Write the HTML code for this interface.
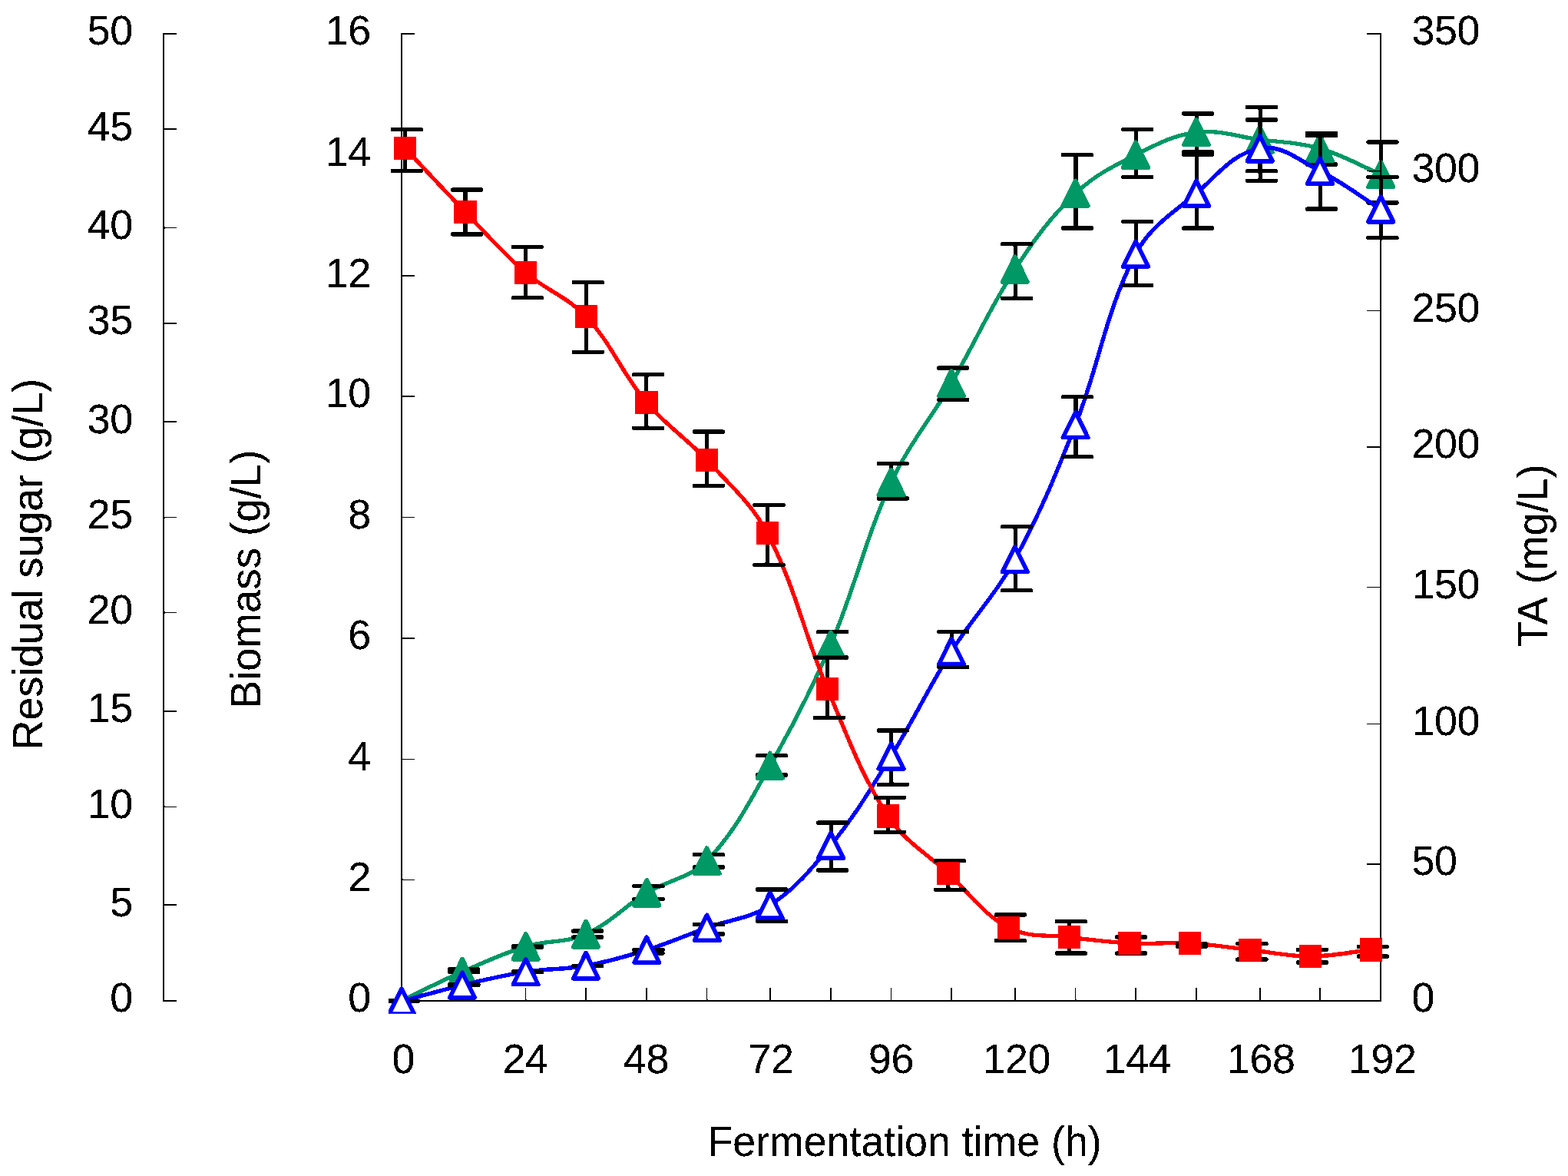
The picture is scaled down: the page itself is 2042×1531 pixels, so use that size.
<!DOCTYPE html>
<html lang="en"><head><meta charset="utf-8"><title>Fermentation time course</title>
<style>html,body{margin:0;padding:0;background:#fff}body{width:2042px;height:1531px;overflow:hidden}svg{display:block}text{font-family:"Liberation Sans", Arial, sans-serif;font-size:53.8px;fill:#000}.d{letter-spacing:-0.45px}</style></head><body>
<svg width="2042" height="1531" viewBox="0 0 2042 1531">
<defs><clipPath id="cb"><rect x="505.9" y="0" width="1400" height="1319.7"/></clipPath>
<filter id="bin" filterUnits="userSpaceOnUse" x="0" y="0" width="2042" height="1531" color-interpolation-filters="sRGB"><feComponentTransfer><feFuncA type="discrete" tableValues="0 0 1 1 1"/></feComponentTransfer></filter></defs>
<rect width="2042" height="1531" fill="#fff"/>
<g filter="url(#bin)">
<g id="biomass">
<path d="M523.1 43.3V1304.3" stroke="#000" stroke-width="2" fill="none"/>
<path d="M522.1 1303.1H1799.2" stroke="#000" stroke-width="2.5" fill="none"/>
<g stroke="#000" stroke-width="1.4" fill="none">
<path d="M523.1 1303.0h17"/>
<path d="M523.1 1145.3h17"/>
<path d="M523.1 988.4h17"/>
<path d="M523.1 830.8h17"/>
<path d="M523.1 673.6h17"/>
<path d="M523.1 516.0h17"/>
<path d="M523.1 359.2h17"/>
<path d="M523.1 201.3h17"/>
<path d="M523.1 44.0h17"/>
<path d="M523.1 1303.0v-17"/>
<path d="M602.0 1303.0v-17"/>
<path d="M684.6 1303.0v-17"/>
<path d="M763.0 1303.0v-17"/>
<path d="M842.2 1303.0v-17"/>
<path d="M920.6 1303.0v-17"/>
<path d="M1002.8 1303.0v-17"/>
<path d="M1081.9 1303.0v-17"/>
<path d="M1160.5 1303.0v-17"/>
<path d="M1239.0 1303.0v-17"/>
<path d="M1321.8 1303.0v-17"/>
<path d="M1400.6 1303.0v-17"/>
<path d="M1479.0 1303.0v-17"/>
<path d="M1557.9 1303.0v-17"/>
<path d="M1640.7 1303.0v-17"/>
<path d="M1718.9 1303.0v-17"/>
<path d="M1798.2 1303.0v-17"/>
</g>
<g text-anchor="end" class="d">
<text text-anchor="end" transform="translate(482.6 1317.3) scale(1 1.010)">0</text>
<text text-anchor="end" transform="translate(482.6 1159.6) scale(1 1.010)">2</text>
<text text-anchor="end" transform="translate(482.6 1002.7) scale(1 1.010)">4</text>
<text text-anchor="end" transform="translate(482.6 845.1) scale(1 1.010)">6</text>
<text text-anchor="end" transform="translate(482.6 687.9) scale(1 1.010)">8</text>
<text text-anchor="end" transform="translate(482.6 530.3) scale(1 1.010)">10</text>
<text text-anchor="end" transform="translate(482.6 373.5) scale(1 1.010)">12</text>
<text text-anchor="end" transform="translate(482.6 215.6) scale(1 1.010)">14</text>
<text text-anchor="end" transform="translate(482.6 58.3) scale(1 1.010)">16</text>
</g>
<g text-anchor="middle" class="d">
<text text-anchor="middle" transform="translate(525.1 1396.6) scale(1 1.010)">0</text>
<text text-anchor="middle" transform="translate(684.1 1396.6) scale(1 1.010)">24</text>
<text text-anchor="middle" transform="translate(841.4 1396.6) scale(1 1.010)">48</text>
<text text-anchor="middle" transform="translate(1004.0 1396.6) scale(1 1.010)">72</text>
<text text-anchor="middle" transform="translate(1160.5 1396.6) scale(1 1.010)">96</text>
<text text-anchor="middle" transform="translate(1323.8 1396.6) scale(1 1.010)">120</text>
<text text-anchor="middle" transform="translate(1481.0 1396.6) scale(1 1.010)">144</text>
<text text-anchor="middle" transform="translate(1642.2 1396.6) scale(1 1.010)">168</text>
<text text-anchor="middle" transform="translate(1800.2 1396.6) scale(1 1.010)">192</text>
</g>
<text text-anchor="middle" transform="translate(1178.1 1504.7) scale(1 1.030)" style="font-size:53.7px;">Fermentation time (h)</text>
<text text-anchor="middle" transform="translate(338.5 754.0) rotate(-90) scale(1 1.030)" style="font-size:54.6px;">Biomass (g/L)</text>
<g clip-path="url(#cb)">
<path d="M523.1 1302.8C551.5 1289.2 573.2 1277.7 602.0 1265.2C631.3 1252.3 654.0 1241.6 684.6 1232.2C712.2 1223.9 736.7 1227.9 763.0 1216.2C794.5 1202.2 812.7 1180.1 842.2 1162.2C869.5 1145.7 898.3 1143.6 920.6 1120.7C957.9 1082.2 976.2 1043.2 1002.8 996.8C1034.3 941.7 1057.0 897.7 1081.9 839.4C1113.8 764.8 1126.5 701.8 1160.5 628.1C1183.3 578.8 1211.7 546.1 1239.0 499.1C1269.8 446.2 1288.3 401.9 1321.8 350.6C1346.7 312.5 1367.6 283.1 1400.6 251.8C1424.9 228.7 1449.1 216.7 1479.0 201.6C1506.0 187.9 1527.8 175.9 1557.9 172.2C1587.7 168.5 1610.9 177.8 1640.7 181.7C1668.9 185.3 1691.6 185.3 1718.9 193.2C1748.7 201.7 1769.7 214.8 1798.2 227.0" stroke="#009966" stroke-width="5.1" fill="none" stroke-linejoin="round"/>
<g stroke="#000" fill="none"><path stroke-width="4.9" d="M523.50 1303.0V1303.0"/><rect x="504.4" y="1300.45" width="42.0" height="5.1" rx="1.6" fill="#000" stroke="none"/><path stroke-width="4.9" d="M602.40 1261.8V1265.5"/><rect x="583.3" y="1259.25" width="42.0" height="5.1" rx="1.6" fill="#000" stroke="none"/><rect x="583.3" y="1262.95" width="42.0" height="5.1" rx="1.6" fill="#000" stroke="none"/><path stroke-width="4.9" d="M685.00 1232.0V1233.0"/><rect x="665.9" y="1229.45" width="42.0" height="5.1" rx="1.6" fill="#000" stroke="none"/><rect x="665.9" y="1230.45" width="42.0" height="5.1" rx="1.6" fill="#000" stroke="none"/><path stroke-width="4.9" d="M763.40 1212.0V1220.1"/><rect x="744.3" y="1209.45" width="42.0" height="5.1" rx="1.6" fill="#000" stroke="none"/><rect x="744.3" y="1217.55" width="42.0" height="5.1" rx="1.6" fill="#000" stroke="none"/><path stroke-width="4.9" d="M842.60 1153.8V1170.5"/><rect x="823.5" y="1151.25" width="42.0" height="5.1" rx="1.6" fill="#000" stroke="none"/><rect x="823.5" y="1167.95" width="42.0" height="5.1" rx="1.6" fill="#000" stroke="none"/><path stroke-width="4.9" d="M921.00 1112.5V1129.0"/><rect x="901.9" y="1109.95" width="42.0" height="5.1" rx="1.6" fill="#000" stroke="none"/><rect x="901.9" y="1126.45" width="42.0" height="5.1" rx="1.6" fill="#000" stroke="none"/><path stroke-width="4.9" d="M1003.20 983.8V1008.9"/><rect x="984.1" y="981.25" width="42.0" height="5.1" rx="1.6" fill="#000" stroke="none"/><rect x="984.1" y="1006.35" width="42.0" height="5.1" rx="1.6" fill="#000" stroke="none"/><path stroke-width="4.9" d="M1082.30 822.5V856.0"/><rect x="1063.2" y="819.95" width="42.0" height="5.1" rx="1.6" fill="#000" stroke="none"/><rect x="1063.2" y="853.45" width="42.0" height="5.1" rx="1.6" fill="#000" stroke="none"/><path stroke-width="4.9" d="M1160.90 603.5V648.9"/><rect x="1141.8" y="600.95" width="42.0" height="5.1" rx="1.6" fill="#000" stroke="none"/><rect x="1141.8" y="646.35" width="42.0" height="5.1" rx="1.6" fill="#000" stroke="none"/><path stroke-width="4.9" d="M1239.40 479.1V520.6"/><rect x="1220.3" y="476.55" width="42.0" height="5.1" rx="1.6" fill="#000" stroke="none"/><rect x="1220.3" y="518.05" width="42.0" height="5.1" rx="1.6" fill="#000" stroke="none"/><path stroke-width="4.9" d="M1322.20 317.6V388.2"/><rect x="1303.1" y="315.05" width="42.0" height="5.1" rx="1.6" fill="#000" stroke="none"/><rect x="1303.1" y="385.65" width="42.0" height="5.1" rx="1.6" fill="#000" stroke="none"/><path stroke-width="4.9" d="M1401.00 201.5V297.0"/><rect x="1381.9" y="198.95" width="42.0" height="5.1" rx="1.6" fill="#000" stroke="none"/><rect x="1381.9" y="294.45" width="42.0" height="5.1" rx="1.6" fill="#000" stroke="none"/><path stroke-width="4.9" d="M1479.40 168.6V230.5"/><rect x="1460.3" y="166.05" width="42.0" height="5.1" rx="1.6" fill="#000" stroke="none"/><rect x="1460.3" y="227.95" width="42.0" height="5.1" rx="1.6" fill="#000" stroke="none"/><path stroke-width="4.9" d="M1558.30 147.9V197.9"/><rect x="1539.2" y="145.35" width="42.0" height="5.1" rx="1.6" fill="#000" stroke="none"/><rect x="1539.2" y="195.35" width="42.0" height="5.1" rx="1.6" fill="#000" stroke="none"/><path stroke-width="4.9" d="M1641.10 139.6V222.7"/><rect x="1622.0" y="137.05" width="42.0" height="5.1" rx="1.6" fill="#000" stroke="none"/><rect x="1622.0" y="220.15" width="42.0" height="5.1" rx="1.6" fill="#000" stroke="none"/><path stroke-width="4.9" d="M1719.30 173.4V214.0"/><rect x="1700.2" y="170.85" width="42.0" height="5.1" rx="1.6" fill="#000" stroke="none"/><rect x="1700.2" y="211.45" width="42.0" height="5.1" rx="1.6" fill="#000" stroke="none"/><path stroke-width="4.9" d="M1798.60 185.0V263.9"/><rect x="1779.5" y="182.45" width="42.0" height="5.1" rx="1.6" fill="#000" stroke="none"/><rect x="1779.5" y="261.35" width="42.0" height="5.1" rx="1.6" fill="#000" stroke="none"/></g>
<path d="M523.1 1287.5L539.4 1320.4L506.9 1320.4z" fill="#009966" stroke="#009966" stroke-width="3.0" stroke-linejoin="round"/>
<path d="M602.0 1248.8L618.2 1281.6L585.8 1281.6z" fill="#009966" stroke="#009966" stroke-width="5.5" stroke-linejoin="round"/>
<path d="M684.6 1215.8L700.9 1248.7L668.4 1248.7z" fill="#009966" stroke="#009966" stroke-width="5.5" stroke-linejoin="round"/>
<path d="M763.0 1199.8L779.2 1232.7L746.8 1232.7z" fill="#009966" stroke="#009966" stroke-width="5.5" stroke-linejoin="round"/>
<path d="M842.2 1145.8L858.5 1178.7L826.0 1178.7z" fill="#009966" stroke="#009966" stroke-width="5.5" stroke-linejoin="round"/>
<path d="M920.6 1104.2L936.9 1137.1L904.4 1137.1z" fill="#009966" stroke="#009966" stroke-width="5.5" stroke-linejoin="round"/>
<path d="M1002.8 980.4L1019.0 1013.1L986.5 1013.1z" fill="#009966" stroke="#009966" stroke-width="5.5" stroke-linejoin="round"/>
<path d="M1081.9 823.0L1098.2 855.8L1065.7 855.8z" fill="#009966" stroke="#009966" stroke-width="5.5" stroke-linejoin="round"/>
<path d="M1160.5 611.8L1176.8 644.5L1144.2 644.5z" fill="#009966" stroke="#009966" stroke-width="5.5" stroke-linejoin="round"/>
<path d="M1239.0 482.8L1255.2 515.5L1222.8 515.5z" fill="#009966" stroke="#009966" stroke-width="5.5" stroke-linejoin="round"/>
<path d="M1321.8 334.2L1338.0 367.0L1305.5 367.0z" fill="#009966" stroke="#009966" stroke-width="5.5" stroke-linejoin="round"/>
<path d="M1400.6 235.3L1416.8 268.1L1384.3 268.1z" fill="#009966" stroke="#009966" stroke-width="5.5" stroke-linejoin="round"/>
<path d="M1479.0 185.2L1495.2 218.0L1462.8 218.0z" fill="#009966" stroke="#009966" stroke-width="5.5" stroke-linejoin="round"/>
<path d="M1557.9 155.8L1574.2 188.6L1541.7 188.6z" fill="#009966" stroke="#009966" stroke-width="5.5" stroke-linejoin="round"/>
<path d="M1640.7 165.2L1657.0 198.1L1624.5 198.1z" fill="#009966" stroke="#009966" stroke-width="5.5" stroke-linejoin="round"/>
<path d="M1718.9 176.8L1735.2 209.6L1702.7 209.6z" fill="#009966" stroke="#009966" stroke-width="5.5" stroke-linejoin="round"/>
<path d="M1798.2 210.6L1814.5 243.4L1782.0 243.4z" fill="#009966" stroke="#009966" stroke-width="5.5" stroke-linejoin="round"/>
</g></g>
<g id="ta">
<path d="M1798.2 43.3V1304.0" stroke="#000" stroke-width="2" fill="none"/>
<g stroke="#000" stroke-width="1.4" fill="none">
<path d="M1798.2 1303.0h-18"/>
<path d="M1798.2 1124.8h-18"/>
<path d="M1798.2 942.5h-18"/>
<path d="M1798.2 764.5h-18"/>
<path d="M1798.2 581.8h-18"/>
<path d="M1798.2 404.5h-18"/>
<path d="M1798.2 222.7h-18"/>
<path d="M1798.2 44.1h-18"/>
</g>
<g text-anchor="start" class="d">
<text text-anchor="start" transform="translate(1838.5 1317.3) scale(1 1.010)">0</text>
<text text-anchor="start" transform="translate(1838.5 1139.1) scale(1 1.010)">50</text>
<text text-anchor="start" transform="translate(1838.5 956.8) scale(1 1.010)">100</text>
<text text-anchor="start" transform="translate(1838.5 778.8) scale(1 1.010)">150</text>
<text text-anchor="start" transform="translate(1838.5 596.1) scale(1 1.010)">200</text>
<text text-anchor="start" transform="translate(1838.5 418.8) scale(1 1.010)">250</text>
<text text-anchor="start" transform="translate(1838.5 237.0) scale(1 1.010)">300</text>
<text text-anchor="start" transform="translate(1838.5 58.4) scale(1 1.010)">350</text>
</g>
<text text-anchor="middle" transform="translate(2014.3 723.3) rotate(-90) scale(1 1.030)" style="font-size:54.0px;word-spacing:5.0px;">TA (mg/L)</text>
<g clip-path="url(#cb)">
<path d="M523.1 1303.6C551.5 1295.9 573.4 1289.2 602.0 1282.4C631.6 1275.3 654.6 1269.8 684.6 1265.2C712.6 1260.8 735.1 1262.3 763.0 1257.2C792.0 1252.0 814.1 1245.5 842.2 1236.7C870.9 1227.6 892.3 1218.0 920.6 1207.8C950.1 1197.1 976.6 1195.9 1002.8 1178.6C1036.1 1156.4 1056.7 1131.7 1081.9 1100.7C1113.8 1061.4 1133.8 1027.3 1160.5 984.4C1190.4 936.3 1208.8 896.0 1239.0 848.1C1267.0 803.7 1296.6 774.2 1321.8 728.1C1355.0 667.6 1375.2 617.4 1400.6 553.1C1431.8 474.1 1439.7 405.9 1479.0 330.5C1497.6 294.9 1527.3 277.6 1557.9 251.7C1585.7 228.0 1604.8 199.7 1640.7 193.2C1670.3 187.9 1692.0 209.1 1718.9 222.6C1749.0 237.7 1769.7 254.4 1798.2 272.3" stroke="#00f" stroke-width="5.1" fill="none" stroke-linejoin="round"/>
<g stroke="#000" fill="none"><path stroke-width="4.9" d="M523.50 1303.0V1303.0"/><rect x="504.4" y="1300.45" width="42.0" height="5.1" rx="1.6" fill="#000" stroke="none"/><path stroke-width="4.9" d="M602.40 1281.5V1282.7"/><rect x="583.3" y="1278.95" width="42.0" height="5.1" rx="1.6" fill="#000" stroke="none"/><rect x="583.3" y="1280.15" width="42.0" height="5.1" rx="1.6" fill="#000" stroke="none"/><path stroke-width="4.9" d="M685.00 1265.0V1265.6"/><rect x="665.9" y="1262.45" width="42.0" height="5.1" rx="1.6" fill="#000" stroke="none"/><rect x="665.9" y="1263.05" width="42.0" height="5.1" rx="1.6" fill="#000" stroke="none"/><path stroke-width="4.9" d="M763.40 1257.4V1257.4"/><rect x="744.3" y="1254.85" width="42.0" height="5.1" rx="1.6" fill="#000" stroke="none"/><path stroke-width="4.9" d="M842.60 1236.5V1241.0"/><rect x="823.5" y="1233.95" width="42.0" height="5.1" rx="1.6" fill="#000" stroke="none"/><rect x="823.5" y="1238.45" width="42.0" height="5.1" rx="1.6" fill="#000" stroke="none"/><path stroke-width="4.9" d="M921.00 1203.5V1216.0"/><rect x="901.9" y="1200.95" width="42.0" height="5.1" rx="1.6" fill="#000" stroke="none"/><rect x="901.9" y="1213.45" width="42.0" height="5.1" rx="1.6" fill="#000" stroke="none"/><path stroke-width="4.9" d="M1003.20 1158.0V1199.3"/><rect x="984.1" y="1155.45" width="42.0" height="5.1" rx="1.6" fill="#000" stroke="none"/><rect x="984.1" y="1196.75" width="42.0" height="5.1" rx="1.6" fill="#000" stroke="none"/><path stroke-width="4.9" d="M1082.30 1071.1V1132.9"/><rect x="1063.2" y="1068.55" width="42.0" height="5.1" rx="1.6" fill="#000" stroke="none"/><rect x="1063.2" y="1130.35" width="42.0" height="5.1" rx="1.6" fill="#000" stroke="none"/><path stroke-width="4.9" d="M1160.90 950.9V1021.4"/><rect x="1141.8" y="948.35" width="42.0" height="5.1" rx="1.6" fill="#000" stroke="none"/><rect x="1141.8" y="1018.85" width="42.0" height="5.1" rx="1.6" fill="#000" stroke="none"/><path stroke-width="4.9" d="M1239.40 822.5V868.2"/><rect x="1220.3" y="819.95" width="42.0" height="5.1" rx="1.6" fill="#000" stroke="none"/><rect x="1220.3" y="865.65" width="42.0" height="5.1" rx="1.6" fill="#000" stroke="none"/><path stroke-width="4.9" d="M1322.20 685.8V768.7"/><rect x="1303.1" y="683.25" width="42.0" height="5.1" rx="1.6" fill="#000" stroke="none"/><rect x="1303.1" y="766.15" width="42.0" height="5.1" rx="1.6" fill="#000" stroke="none"/><path stroke-width="4.9" d="M1401.00 516.7V594.6"/><rect x="1381.9" y="514.15" width="42.0" height="5.1" rx="1.6" fill="#000" stroke="none"/><rect x="1381.9" y="592.05" width="42.0" height="5.1" rx="1.6" fill="#000" stroke="none"/><path stroke-width="4.9" d="M1479.40 288.6V371.4"/><rect x="1460.3" y="286.05" width="42.0" height="5.1" rx="1.6" fill="#000" stroke="none"/><rect x="1460.3" y="368.85" width="42.0" height="5.1" rx="1.6" fill="#000" stroke="none"/><path stroke-width="4.9" d="M1558.30 201.0V297.1"/><rect x="1539.2" y="198.45" width="42.0" height="5.1" rx="1.6" fill="#000" stroke="none"/><rect x="1539.2" y="294.55" width="42.0" height="5.1" rx="1.6" fill="#000" stroke="none"/><path stroke-width="4.9" d="M1641.10 156.1V235.2"/><rect x="1622.0" y="153.55" width="42.0" height="5.1" rx="1.6" fill="#000" stroke="none"/><rect x="1622.0" y="232.65" width="42.0" height="5.1" rx="1.6" fill="#000" stroke="none"/><path stroke-width="4.9" d="M1719.30 176.6V272.0"/><rect x="1700.2" y="174.05" width="42.0" height="5.1" rx="1.6" fill="#000" stroke="none"/><rect x="1700.2" y="269.45" width="42.0" height="5.1" rx="1.6" fill="#000" stroke="none"/><path stroke-width="4.9" d="M1798.60 230.5V309.7"/><rect x="1779.5" y="227.95" width="42.0" height="5.1" rx="1.6" fill="#000" stroke="none"/><rect x="1779.5" y="307.15" width="42.0" height="5.1" rx="1.6" fill="#000" stroke="none"/></g>
<path d="M523.1 1287.2L539.4 1320.0L506.9 1320.0z" fill="#fff" stroke="#00f" stroke-width="5.5" stroke-linejoin="round"/>
<path d="M602.0 1266.0L618.2 1298.8L585.8 1298.8z" fill="#fff" stroke="#00f" stroke-width="5.5" stroke-linejoin="round"/>
<path d="M684.6 1248.8L700.9 1281.6L668.4 1281.6z" fill="#fff" stroke="#00f" stroke-width="5.5" stroke-linejoin="round"/>
<path d="M763.0 1240.8L779.2 1273.7L746.8 1273.7z" fill="#fff" stroke="#00f" stroke-width="5.5" stroke-linejoin="round"/>
<path d="M842.2 1220.2L858.5 1253.1L826.0 1253.1z" fill="#fff" stroke="#00f" stroke-width="5.5" stroke-linejoin="round"/>
<path d="M920.6 1191.3L936.9 1224.2L904.4 1224.2z" fill="#fff" stroke="#00f" stroke-width="5.5" stroke-linejoin="round"/>
<path d="M1002.8 1162.2L1019.0 1195.0L986.5 1195.0z" fill="#fff" stroke="#00f" stroke-width="5.5" stroke-linejoin="round"/>
<path d="M1081.9 1084.2L1098.2 1117.1L1065.7 1117.1z" fill="#fff" stroke="#00f" stroke-width="5.5" stroke-linejoin="round"/>
<path d="M1160.5 968.0L1176.8 1000.8L1144.2 1000.8z" fill="#fff" stroke="#00f" stroke-width="5.5" stroke-linejoin="round"/>
<path d="M1239.0 831.8L1255.2 864.5L1222.8 864.5z" fill="#fff" stroke="#00f" stroke-width="5.5" stroke-linejoin="round"/>
<path d="M1321.8 711.8L1338.0 744.5L1305.5 744.5z" fill="#fff" stroke="#00f" stroke-width="5.5" stroke-linejoin="round"/>
<path d="M1400.6 536.8L1416.8 569.5L1384.3 569.5z" fill="#fff" stroke="#00f" stroke-width="5.5" stroke-linejoin="round"/>
<path d="M1479.0 314.1L1495.2 346.9L1462.8 346.9z" fill="#fff" stroke="#00f" stroke-width="5.5" stroke-linejoin="round"/>
<path d="M1557.9 235.2L1574.2 268.1L1541.7 268.1z" fill="#fff" stroke="#00f" stroke-width="5.5" stroke-linejoin="round"/>
<path d="M1640.7 176.8L1657.0 209.7L1624.5 209.7z" fill="#fff" stroke="#00f" stroke-width="5.5" stroke-linejoin="round"/>
<path d="M1718.9 206.2L1735.2 239.0L1702.7 239.0z" fill="#fff" stroke="#00f" stroke-width="5.5" stroke-linejoin="round"/>
<path d="M1798.2 255.9L1814.5 288.7L1782.0 288.7z" fill="#fff" stroke="#00f" stroke-width="5.5" stroke-linejoin="round"/>
</g></g>
<g id="sugar">
<path d="M213.3 43.3V1304.0" stroke="#000" stroke-width="2" fill="none"/>
<g stroke="#000" stroke-width="1.4" fill="none">
<path d="M213.3 1303.0h17"/>
<path d="M213.3 1178.2h17"/>
<path d="M213.3 1050.4h17"/>
<path d="M213.3 925.8h17"/>
<path d="M213.3 797.5h17"/>
<path d="M213.3 673.6h17"/>
<path d="M213.3 549.3h17"/>
<path d="M213.3 421.1h17"/>
<path d="M213.3 296.5h17"/>
<path d="M213.3 168.2h17"/>
<path d="M213.3 44.0h17"/>
</g>
<g text-anchor="end" class="d">
<text text-anchor="end" transform="translate(172.6 1317.3) scale(1 1.010)">0</text>
<text text-anchor="end" transform="translate(172.6 1192.5) scale(1 1.010)">5</text>
<text text-anchor="end" transform="translate(172.6 1064.7) scale(1 1.010)">10</text>
<text text-anchor="end" transform="translate(172.6 940.1) scale(1 1.010)">15</text>
<text text-anchor="end" transform="translate(172.6 811.8) scale(1 1.010)">20</text>
<text text-anchor="end" transform="translate(172.6 687.9) scale(1 1.010)">25</text>
<text text-anchor="end" transform="translate(172.6 563.6) scale(1 1.010)">30</text>
<text text-anchor="end" transform="translate(172.6 435.4) scale(1 1.010)">35</text>
<text text-anchor="end" transform="translate(172.6 310.8) scale(1 1.010)">40</text>
<text text-anchor="end" transform="translate(172.6 182.5) scale(1 1.010)">45</text>
<text text-anchor="end" transform="translate(172.6 58.3) scale(1 1.010)">50</text>
</g>
<text text-anchor="middle" transform="translate(55.6 734.5) rotate(-90) scale(1 1.030)" style="font-size:53.7px;">Residual sugar (g/L)</text>
<path d="M527.5 193.0C555.8 222.9 577.4 246.5 606.0 276.0C633.9 304.8 654.1 328.7 684.4 354.9C711.0 377.9 739.5 386.6 763.5 412.4C797.0 448.3 810.3 486.4 841.9 523.9C867.1 553.8 893.9 570.3 920.5 599.0C950.7 631.6 978.5 654.8 999.2 694.1C1035.7 763.3 1046.9 824.8 1077.6 896.8C1103.5 957.6 1120.3 1007.2 1156.5 1062.5C1177.8 1095.1 1206.3 1110.6 1234.9 1137.0C1262.8 1162.9 1279.8 1190.1 1313.5 1207.8C1339.0 1221.2 1364.0 1216.3 1392.5 1220.0C1420.7 1223.6 1442.6 1226.6 1471.0 1228.0C1499.3 1229.4 1521.3 1226.5 1549.6 1228.0C1578.0 1229.6 1599.8 1233.5 1628.1 1236.6C1656.4 1239.7 1678.2 1245.0 1706.6 1245.0C1735.2 1245.0 1757.1 1239.6 1785.5 1236.5" stroke="#f00" stroke-width="5.1" fill="none" stroke-linejoin="round"/>
<g stroke="#000" fill="none"><path stroke-width="4.9" d="M527.50 168.6V222.4"/><rect x="508.8" y="166.05" width="42.0" height="5.1" rx="1.6" fill="#000" stroke="none"/><rect x="508.8" y="219.85" width="42.0" height="5.1" rx="1.6" fill="#000" stroke="none"/><path stroke-width="4.9" d="M606.00 247.1V304.9"/><rect x="587.3" y="244.55" width="42.0" height="5.1" rx="1.6" fill="#000" stroke="none"/><rect x="587.3" y="302.35" width="42.0" height="5.1" rx="1.6" fill="#000" stroke="none"/><path stroke-width="4.9" d="M684.40 321.6V387.8"/><rect x="665.7" y="319.05" width="42.0" height="5.1" rx="1.6" fill="#000" stroke="none"/><rect x="665.7" y="385.25" width="42.0" height="5.1" rx="1.6" fill="#000" stroke="none"/><path stroke-width="4.9" d="M763.50 367.6V458.4"/><rect x="744.8" y="365.05" width="42.0" height="5.1" rx="1.6" fill="#000" stroke="none"/><rect x="744.8" y="455.85" width="42.0" height="5.1" rx="1.6" fill="#000" stroke="none"/><path stroke-width="4.9" d="M841.90 487.6V557.3"/><rect x="823.2" y="485.05" width="42.0" height="5.1" rx="1.6" fill="#000" stroke="none"/><rect x="823.2" y="554.75" width="42.0" height="5.1" rx="1.6" fill="#000" stroke="none"/><path stroke-width="4.9" d="M920.50 562.0V632.3"/><rect x="901.8" y="559.45" width="42.0" height="5.1" rx="1.6" fill="#000" stroke="none"/><rect x="901.8" y="629.75" width="42.0" height="5.1" rx="1.6" fill="#000" stroke="none"/><path stroke-width="4.9" d="M999.20 657.4V735.4"/><rect x="980.5" y="654.85" width="42.0" height="5.1" rx="1.6" fill="#000" stroke="none"/><rect x="980.5" y="732.85" width="42.0" height="5.1" rx="1.6" fill="#000" stroke="none"/><path stroke-width="4.9" d="M1077.60 856.0V934.4"/><rect x="1058.9" y="853.45" width="42.0" height="5.1" rx="1.6" fill="#000" stroke="none"/><rect x="1058.9" y="931.85" width="42.0" height="5.1" rx="1.6" fill="#000" stroke="none"/><path stroke-width="4.9" d="M1156.50 1038.2V1083.3"/><rect x="1137.8" y="1035.65" width="42.0" height="5.1" rx="1.6" fill="#000" stroke="none"/><rect x="1137.8" y="1080.75" width="42.0" height="5.1" rx="1.6" fill="#000" stroke="none"/><path stroke-width="4.9" d="M1234.90 1120.7V1158.4"/><rect x="1216.2" y="1118.15" width="42.0" height="5.1" rx="1.6" fill="#000" stroke="none"/><rect x="1216.2" y="1155.85" width="42.0" height="5.1" rx="1.6" fill="#000" stroke="none"/><path stroke-width="4.9" d="M1313.50 1190.9V1224.6"/><rect x="1294.8" y="1188.35" width="42.0" height="5.1" rx="1.6" fill="#000" stroke="none"/><rect x="1294.8" y="1222.05" width="42.0" height="5.1" rx="1.6" fill="#000" stroke="none"/><path stroke-width="4.9" d="M1392.50 1199.6V1241.1"/><rect x="1373.8" y="1197.05" width="42.0" height="5.1" rx="1.6" fill="#000" stroke="none"/><rect x="1373.8" y="1238.55" width="42.0" height="5.1" rx="1.6" fill="#000" stroke="none"/><path stroke-width="4.9" d="M1471.00 1219.9V1241.1"/><rect x="1452.3" y="1217.35" width="42.0" height="5.1" rx="1.6" fill="#000" stroke="none"/><rect x="1452.3" y="1238.55" width="42.0" height="5.1" rx="1.6" fill="#000" stroke="none"/><path stroke-width="4.9" d="M1549.60 1229.0V1232.0"/><rect x="1530.9" y="1226.45" width="42.0" height="5.1" rx="1.6" fill="#000" stroke="none"/><rect x="1530.9" y="1229.45" width="42.0" height="5.1" rx="1.6" fill="#000" stroke="none"/><path stroke-width="4.9" d="M1628.10 1228.6V1249.0"/><rect x="1609.4" y="1226.05" width="42.0" height="5.1" rx="1.6" fill="#000" stroke="none"/><rect x="1609.4" y="1246.45" width="42.0" height="5.1" rx="1.6" fill="#000" stroke="none"/><path stroke-width="4.9" d="M1706.60 1236.4V1252.9"/><rect x="1687.9" y="1233.85" width="42.0" height="5.1" rx="1.6" fill="#000" stroke="none"/><rect x="1687.9" y="1250.35" width="42.0" height="5.1" rx="1.6" fill="#000" stroke="none"/><path stroke-width="4.9" d="M1785.50 1232.5V1245.0"/><rect x="1766.8" y="1229.95" width="42.0" height="5.1" rx="1.6" fill="#000" stroke="none"/><rect x="1766.8" y="1242.45" width="42.0" height="5.1" rx="1.6" fill="#000" stroke="none"/></g>
<rect x="513.0" y="178.1" width="29.1" height="29.8" fill="#f00"/>
<rect x="591.5" y="261.1" width="29.1" height="29.8" fill="#f00"/>
<rect x="669.9" y="340.0" width="29.1" height="29.8" fill="#f00"/>
<rect x="749.0" y="397.5" width="29.1" height="29.8" fill="#f00"/>
<rect x="827.4" y="509.0" width="29.1" height="29.8" fill="#f00"/>
<rect x="906.0" y="584.1" width="29.1" height="29.8" fill="#f00"/>
<rect x="984.7" y="679.2" width="29.1" height="29.8" fill="#f00"/>
<rect x="1063.0" y="881.9" width="29.1" height="29.8" fill="#f00"/>
<rect x="1142.0" y="1047.6" width="29.1" height="29.8" fill="#f00"/>
<rect x="1220.4" y="1122.1" width="29.1" height="29.8" fill="#f00"/>
<rect x="1299.0" y="1192.9" width="29.1" height="29.8" fill="#f00"/>
<rect x="1378.0" y="1205.1" width="29.1" height="29.8" fill="#f00"/>
<rect x="1456.5" y="1213.1" width="29.1" height="29.8" fill="#f00"/>
<rect x="1535.0" y="1213.1" width="29.1" height="29.8" fill="#f00"/>
<rect x="1613.5" y="1221.7" width="29.1" height="29.8" fill="#f00"/>
<rect x="1692.0" y="1230.1" width="29.1" height="29.8" fill="#f00"/>
<rect x="1771.0" y="1221.6" width="29.1" height="29.8" fill="#f00"/>
</g>
</g>
</svg></body></html>
